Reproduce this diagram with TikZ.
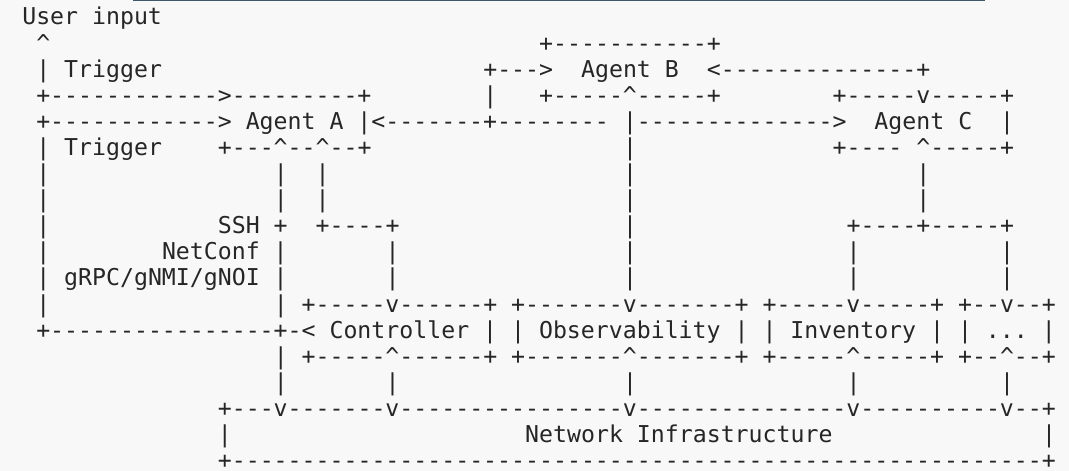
\documentclass[tikz,border=0pt]{standalone}
\usepackage{fontspec}
\setmonofont{DejaVu Sans Mono}
\definecolor{bgc}{HTML}{F8F8F8}
\definecolor{txc}{HTML}{262626}
\definecolor{barc}{HTML}{3B5A6B}
\def\asccaret{\textasciicircum}
\newcommand\seg[4]{\node[asc] (#1) at ({22.3pt+13.97pt*#2},{446pt-26.1pt*#3}) {#4};}
\tikzset{asc/.style={anchor=base west,inner sep=0pt,outer sep=0pt,text=txc,
  font=\ttfamily\fontsize{23.2}{26.1}\selectfont}}
\begin{document}
\begin{tikzpicture}
\useasboundingbox (0,0) rectangle (1069pt,471pt);
\fill[bgc] (0,0) rectangle (1069pt,471pt);
\fill[barc] (133pt,469.6pt) rectangle (985pt,471pt);
% row 0
\seg{r0a}{0}{0}{User input}
% row 1
\seg{r1a}{1}{1}{\asccaret}
\seg{r1b}{37}{1}{+-----------+}
% row 2
\seg{r2a}{1}{2}{| Trigger}
\seg{r2b}{33}{2}{+--->}
\seg{r2c}{40}{2}{Agent B}
\seg{r2d}{49}{2}{<--------------+}
% row 3
\seg{r3a}{1}{3}{+------------>---------+}
\seg{r3b}{33}{3}{|}
\seg{r3c}{37}{3}{+-----\asccaret-----+}
\seg{r3d}{58}{3}{+-----v-----+}
% row 4
\seg{r4a}{1}{4}{+------------> Agent A |<-------+--------}
\seg{r4b}{43}{4}{|-------------->}
\seg{r4c}{61}{4}{Agent C}
\seg{r4d}{70}{4}{|}
% row 5
\seg{r5a}{1}{5}{| Trigger}
\seg{r5b}{14}{5}{+---\asccaret--\asccaret--+}
\seg{r5c}{43}{5}{|}
\seg{r5d}{58}{5}{+----}
\seg{r5e}{64}{5}{\asccaret-----+}
% rows 6-7
\foreach \r in {6,7}{
  \seg{r\r a}{1}{\r}{|}
  \seg{r\r b}{18}{\r}{|}
  \seg{r\r c}{21}{\r}{|}
  \seg{r\r d}{43}{\r}{|}
  \seg{r\r e}{64}{\r}{|}
}
% row 8
\seg{r8a}{1}{8}{|}
\seg{r8b}{14}{8}{SSH +}
\seg{r8c}{21}{8}{+----+}
\seg{r8d}{43}{8}{|}
\seg{r8e}{59}{8}{+----+-----+}
% row 9
\seg{r9a}{1}{9}{|}
\seg{r9b}{10}{9}{NetConf |}
\seg{r9c}{26}{9}{|}
\seg{r9d}{43}{9}{|}
\seg{r9e}{59}{9}{|}
\seg{r9f}{70}{9}{|}
% row 10
\seg{r10a}{1}{10}{| gRPC/gNMI/gNOI |}
\seg{r10b}{26}{10}{|}
\seg{r10c}{43}{10}{|}
\seg{r10d}{59}{10}{|}
\seg{r10e}{70}{10}{|}
% row 11
\seg{r11a}{1}{11}{|}
\seg{r11b}{18}{11}{| +-----v------+ +-------v-------+ +-----v-----+ +--v--+}
% row 12
\seg{r12a}{1}{12}{+----------------+-< Controller | | Observability | | Inventory | | ... |}
% row 13
\seg{r13a}{18}{13}{| +-----\asccaret------+ +-------\asccaret-------+ +-----\asccaret-----+ +--\asccaret--+}
% row 14
\seg{r14a}{18}{14}{|}
\seg{r14b}{26}{14}{|}
\seg{r14c}{43}{14}{|}
\seg{r14d}{59}{14}{|}
\seg{r14e}{70}{14}{|}
% row 15
\seg{r15a}{14}{15}{+---v-------v----------------v---------------v----------v--+}
% row 16
\seg{r16a}{14}{16}{|}
\seg{r16b}{36}{16}{Network Infrastructure}
\seg{r16c}{73}{16}{|}
% row 17
\seg{r17a}{14}{17}{+----------------------------------------------------------+}
\end{tikzpicture}
\end{document}
